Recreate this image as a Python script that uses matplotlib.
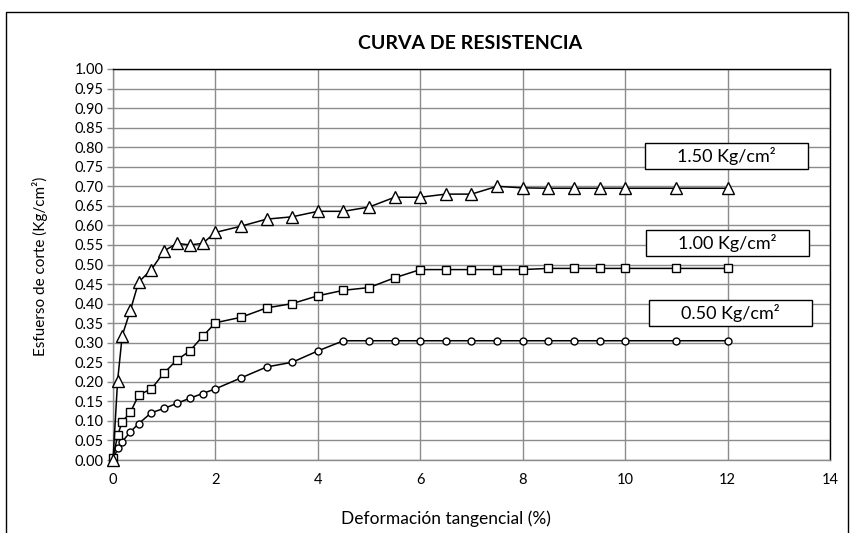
import matplotlib
matplotlib.use("Agg")
import matplotlib.pyplot as plt
from matplotlib.patches import Rectangle
from matplotlib.ticker import MultipleLocator, FormatStrFormatter

# Shear strain (%) at each reading
strain = [0, 0.09, 0.18, 0.34, 0.5, 0.75, 1.0, 1.25, 1.5, 1.75, 2.0, 2.5, 3.0, 3.5,
          4.0, 4.5, 5.0, 5.5, 6.0, 6.5, 7.0, 7.5, 8.0, 8.5, 9.0, 9.5, 10.0, 11.0, 12.0]

# Shear stress (Kg/cm2) for each normal load
stress_050 = [0.000, 0.030, 0.047, 0.072, 0.093, 0.121, 0.132, 0.145, 0.158, 0.170,
              0.182, 0.210, 0.238, 0.250, 0.279, 0.305, 0.305, 0.305, 0.305, 0.305,
              0.305, 0.305, 0.305, 0.305, 0.305, 0.305, 0.305, 0.305, 0.305]
stress_100 = [0.005, 0.063, 0.098, 0.122, 0.166, 0.182, 0.223, 0.256, 0.279, 0.316,
              0.351, 0.365, 0.389, 0.400, 0.420, 0.434, 0.441, 0.466, 0.487, 0.487,
              0.487, 0.487, 0.487, 0.490, 0.490, 0.490, 0.490, 0.490, 0.490]
stress_150 = [0.000, 0.203, 0.318, 0.383, 0.455, 0.487, 0.535, 0.554, 0.550, 0.554,
              0.582, 0.598, 0.616, 0.622, 0.636, 0.636, 0.647, 0.672, 0.672, 0.680,
              0.680, 0.700, 0.696, 0.695, 0.695, 0.695, 0.695, 0.695, 0.695]

normal_loads = [0.50, 1.00, 1.50]
series = [stress_050, stress_100, stress_150]
markers = ["o", "s", "^"]
marker_sizes = [5.0, 5.5, 8.5]
# label box centres (strain, stress)
box_pos = [(12.05, 0.377), (12.0, 0.555), (11.98, 0.777)]

W, H = 852, 533
fig = plt.figure(figsize=(W / 100, H / 100), dpi=100)
ax = fig.add_axes([113 / W, 1 - 460 / H, (830 - 113) / W, (460 - 69) / H])

grid_c = "#8c8c8c"
txt_font = ["Lato", "DejaVu Sans"]

for ys, m, ms in zip(series, markers, marker_sizes):
    ax.plot(strain, ys, color="black", lw=1.1, marker=m, ms=ms,
            mfc="white", mec="black", mew=1.0, zorder=3, clip_on=False)

ax.set_xlim(0, 14)
ax.set_ylim(0, 1.0)
ax.xaxis.set_major_locator(MultipleLocator(2))
ax.yaxis.set_major_locator(MultipleLocator(0.05))
ax.yaxis.set_major_formatter(FormatStrFormatter("%.2f"))
ax.grid(True, color=grid_c, lw=1.0)
ax.set_axisbelow(True)

for side in ("left", "bottom"):
    ax.spines[side].set_color(grid_c)
    ax.spines[side].set_linewidth(1.0)
for side in ("top", "right"):
    ax.spines[side].set_color("black")
    ax.spines[side].set_linewidth(1.0)

ax.tick_params(axis="both", direction="out", length=4, width=1, color=grid_c,
               labelsize=10.5, pad=3)
ax.tick_params(axis="x", length=0, pad=9)
for lab in ax.get_xticklabels() + ax.get_yticklabels():
    lab.set_family(txt_font)

for load, (bx, by) in zip(normal_loads, box_pos):
    bw, bh = 3.18, 0.0665
    ax.add_patch(Rectangle((bx - bw / 2, by - bh / 2), bw, bh, facecolor="white",
                           edgecolor="black", lw=1.0, zorder=5, clip_on=False))
    ax.text(bx, by, f"{load:.2f} Kg/cm\u00b2", ha="center", va="center",
            fontsize=13, family=txt_font, zorder=6)

fig.text(470 / W, 1 - 43 / H, "CURVA DE RESISTENCIA", ha="center", va="center",
         fontsize=14, fontweight="bold", family=txt_font)
fig.text(446 / W, 1 - 519 / H, "Deformación tangencial (%)", ha="center",
         va="center", fontsize=12.5, family=txt_font)
fig.text(40 / W, 1 - 266 / H, "Esfuerso de corte (Kg/cm\u00b2)", ha="center",
         va="center", rotation=90, fontsize=11, family=txt_font)

# chart border (bottom edge runs off the canvas)
fig.add_artist(Rectangle((6 / W, -0.05), (848 - 6) / W, 1 - 12 / H + 0.05,
                         transform=fig.transFigure, fill=False, ec="black", lw=1.0))

fig.savefig("out.png", dpi=100)
